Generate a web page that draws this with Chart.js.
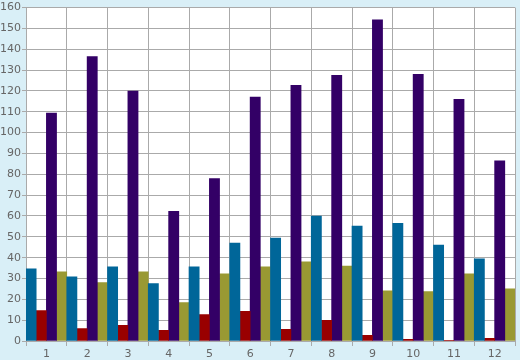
<!DOCTYPE html>
<html><head><meta charset="utf-8">
<script src="https://cdn.jsdelivr.net/npm/chart.js@4"></script>
<style>html,body{margin:0;padding:0;background:#d9eff7}#c{display:block}</style>
</head><body>
<canvas id="c" width="520" height="360"></canvas>
<script>
const categories = ['1','2','3','4','5','6','7','8','9','10','11','12'];
const seriesBlue   = [34.6, 30.8, 35.6, 27.5, 35.6, 47.0, 49.4, 59.9, 55.1, 56.5, 46.0, 39.4];
const seriesRed    = [14.6, 6.0, 7.5, 5.1, 12.7, 14.2, 5.6, 9.9, 2.7, 0.8, 0.3, 1.3];
const seriesPurple = [109.4, 136.5, 119.9, 62.2, 78.0, 117.0, 122.7, 127.5, 154.1, 128.0, 116.0, 86.5];
const seriesOlive  = [33.2, 28.0, 33.2, 18.4, 32.2, 35.6, 38.0, 36.0, 24.1, 23.7, 32.2, 25.0];
const yMin = 0, yMax = 160, yStep = 10;

const bg = {
  id: 'bg',
  beforeDraw(chart) {
    const {ctx, chartArea: a} = chart;
    ctx.save();
    ctx.fillStyle = '#d9eff7';
    ctx.fillRect(0, 0, chart.width, chart.height);
    ctx.fillStyle = '#ffffff';
    ctx.fillRect(a.left, a.top, a.right - a.left, a.bottom - a.top);
    ctx.restore();
  }
};

new Chart(document.getElementById('c'), {
  type: 'bar',
  data: {
    labels: categories,
    datasets: [
      {data: seriesBlue, backgroundColor: '#006699'},
      {data: seriesRed, backgroundColor: '#990000'},
      {data: seriesPurple, backgroundColor: '#330066'},
      {data: seriesOlive, backgroundColor: '#999933'}
    ]
  },
  options: {
    responsive: false,
    animation: false,
    devicePixelRatio: 1,
    layout: {padding: {top: 5, right: 5, left: 0, bottom: 0}},
    plugins: {legend: {display: false}, tooltip: {enabled: false}},
    datasets: {bar: {barPercentage: 1, categoryPercentage: 1, borderWidth: 0}},
    scales: {
      x: {
        offset: true,
        grid: {offset: true, color: '#aaaaaa', lineWidth: 1, tickLength: 5, drawOnChartArea: true},
        border: {display: true, color: '#aaaaaa'},
        ticks: {color: '#666666', font: {family: 'DejaVu Sans', size: 11}, padding: 2, maxRotation: 0},
        afterFit(s) { s.height = 19; }
      },
      y: {
        min: yMin, max: yMax,
        grid: {color: '#aaaaaa', lineWidth: 1, tickLength: 4},
        border: {display: true, color: '#aaaaaa'},
        ticks: {stepSize: yStep, color: '#666666', font: {family: 'DejaVu Sans', size: 11}, padding: 1},
        afterFit(s) { s.width = 26; }
      }
    }
  },
  plugins: [bg]
});
</script>
</body></html>
